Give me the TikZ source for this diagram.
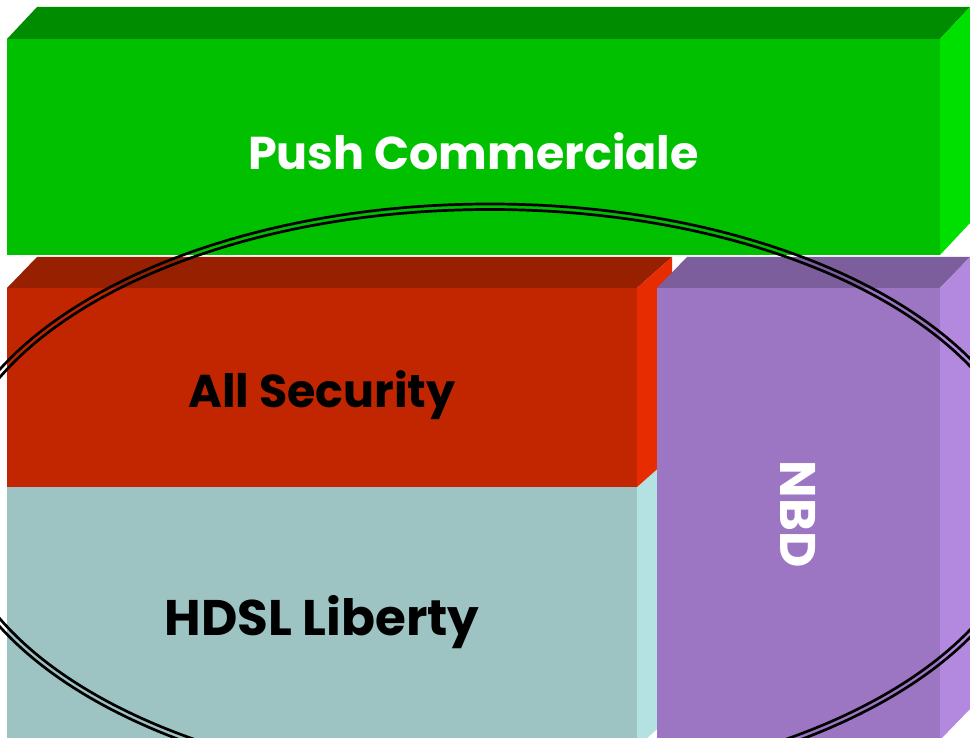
\documentclass[tikz,border=0pt]{standalone}
\usepackage{fontspec}
\setmainfont{Poppins}
\definecolor{pcgrn}{RGB}{0,192,0}
\definecolor{pcgrntop}{RGB}{0,140,0}
\definecolor{pcgrnside}{RGB}{0,224,0}
\definecolor{asred}{RGB}{194,38,0}
\definecolor{asredtop}{RGB}{150,32,0}
\definecolor{asredside}{RGB}{230,44,0}
\definecolor{hdblu}{RGB}{157,195,195}
\definecolor{hdbluside}{RGB}{180,226,226}
\definecolor{nbdvio}{RGB}{156,118,194}
\definecolor{nbdviotop}{RGB}{123,94,155}
\definecolor{nbdvioside}{RGB}{179,137,224}
\usetikzlibrary{positioning}
\tikzset{
  face/.style={inner sep=0pt, outer sep=0pt, anchor=north west},
  lbl/.style={inner sep=0pt, font=\fontsize{46}{56}\selectfont\bfseries},
  biglbl/.style={lbl, font=\fontsize{50}{60}\selectfont\bfseries},
  ring/.style={draw=black, line width=2.7pt}
}

\begin{document}
\begin{tikzpicture}[x=1pt, y=-1pt]
\useasboundingbox (0,0) rectangle (970,738);
\fill[white] (0,0) rectangle (970,738);
\clip (0,0) rectangle (970,738);

% Push Commerciale
\node[face, fill=pcgrn, minimum width=933pt, minimum height=216pt] (push) at (7,39) {};
\fill[pcgrntop] (push.north west) -- ++(30,-32) -- ++(933,0) -- (push.north east) -- cycle;
\fill[pcgrnside] (push.north east) -- ++(30,-32) -- ++(0,216) -- (push.south east) -- cycle;

% HDSL Liberty
\node[face, fill=hdblu, minimum width=630pt, minimum height=260pt] (hdsl) at (7,487) {};
\fill[hdbluside] (hdsl.north east) -- ++(35,-31) -- ++(0,260) -- (hdsl.south east) -- cycle;

% All Security
\node[face, fill=asred, minimum width=630pt, minimum height=199pt] (sec) at (7,288) {};
\fill[asredtop] (sec.north west) -- ++(30,-31) -- ++(635,0) -- (sec.north east) -- cycle;
\fill[asredside] (sec.north east) -- ++(35,-31) -- ++(0,199) -- (sec.south east) -- cycle;

% NBD
\node[face, fill=nbdvio, minimum width=283pt, minimum height=452pt] (nbd) at (657,288) {};
\fill[nbdviotop] (nbd.north west) -- ++(30,-31) -- ++(283,0) -- (nbd.north east) -- cycle;
\fill[nbdvioside] (nbd.north east) -- ++(30,-31) -- ++(0,452) -- (nbd.south east) -- cycle;

% labels
\node[lbl, text=white] (pushlbl) at ([yshift=-4pt]push.center) {Push Commerciale};
\node[lbl, text=black] (seclbl) at ([yshift=-8pt]sec.center) {All Security};
\node[biglbl, text=black] (hdsllbl) at ([yshift=-5pt]hdsl.center) {HDSL Liberty};
\node[biglbl, text=white, rotate=-90] (nbdlbl) at (nbd.center) {NBD};

% double ring
\coordinate (ctr) at (490,498);
\draw[ring] (ctr) ellipse [x radius=545, y radius=294];
\draw[ring] (ctr) ellipse [x radius=539.5, y radius=288.5];
\end{tikzpicture}
\end{document}
